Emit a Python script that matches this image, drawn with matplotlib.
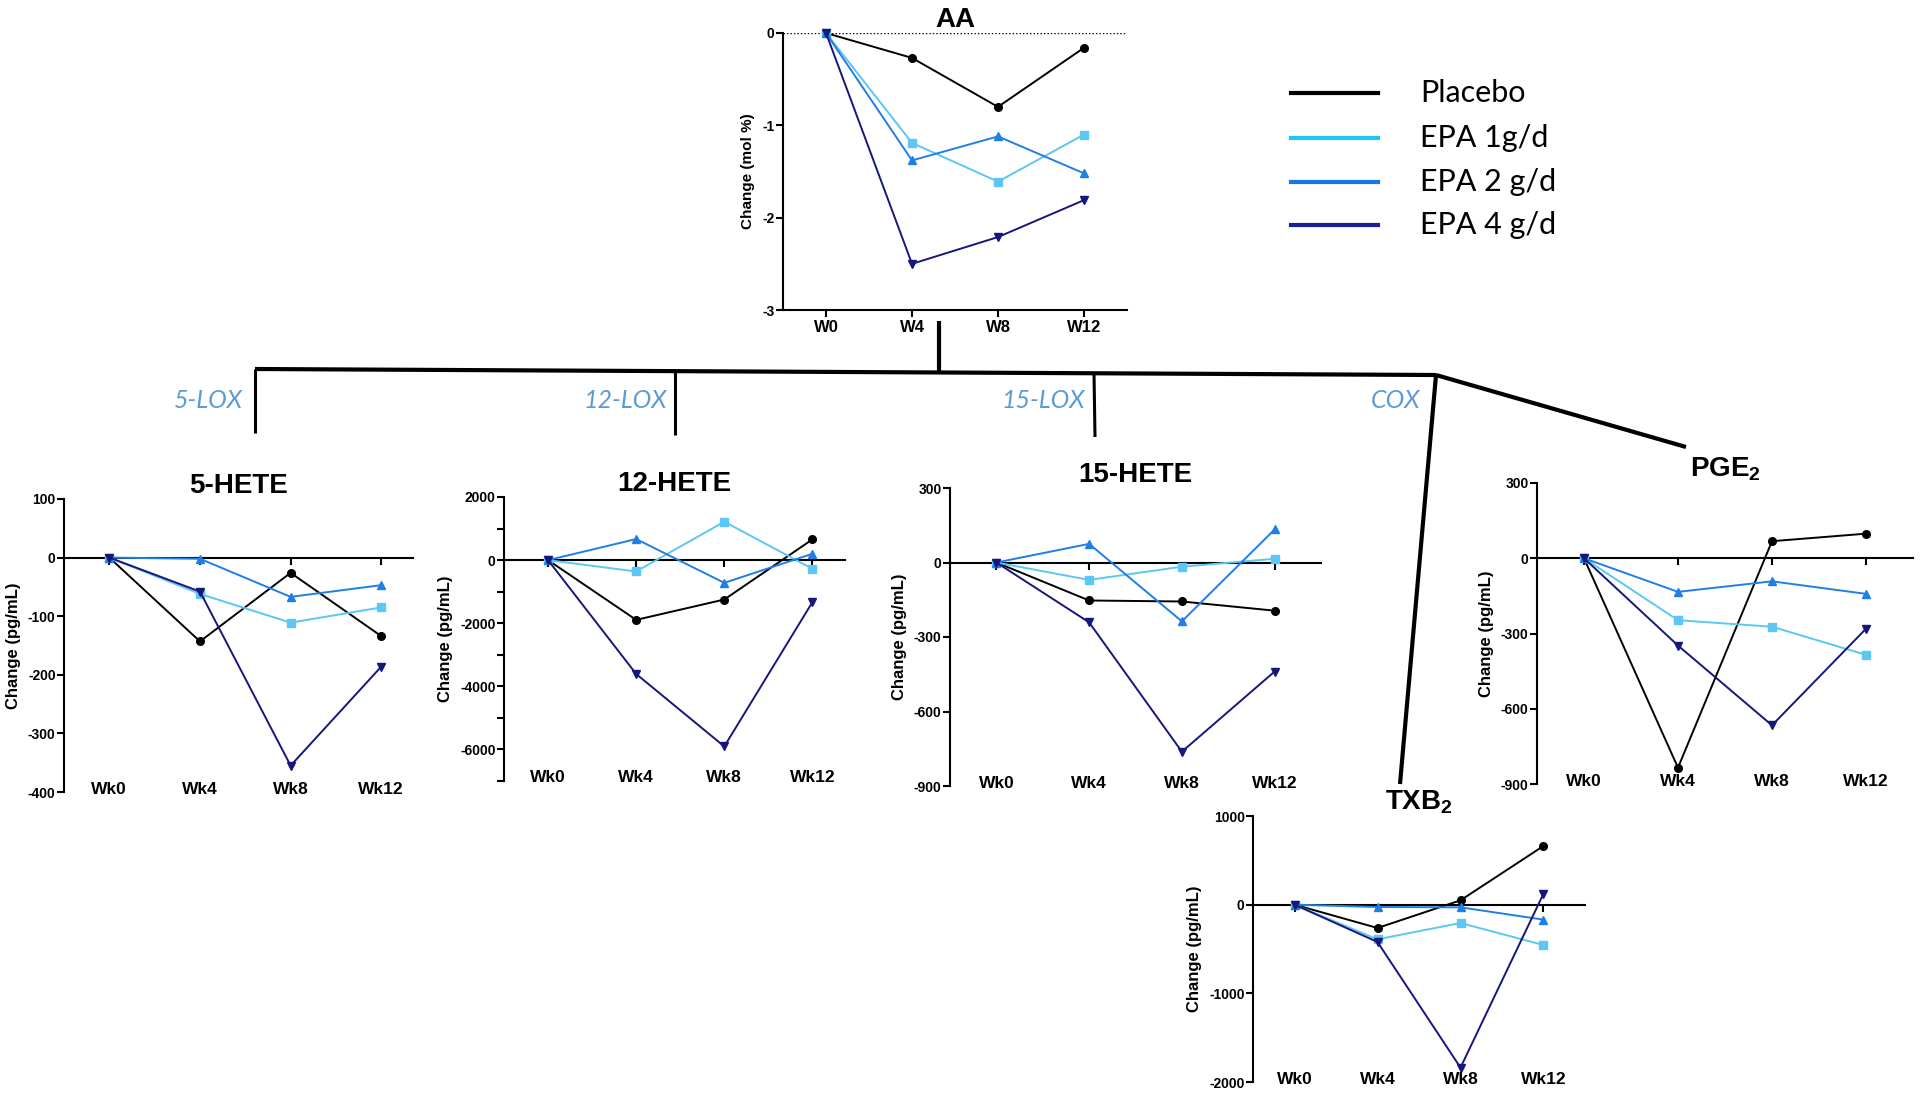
import numpy as np
import matplotlib.pyplot as plt
from matplotlib.ticker import MultipleLocator

plt.rcParams['font.family'] = ['Liberation Sans', 'DejaVu Sans']
plt.rcParams['font.weight'] = 'bold'
plt.rcParams['axes.labelweight'] = 'bold'
plt.rcParams['axes.titleweight'] = 'bold'
plt.rcParams['axes.unicode_minus'] = False
plt.rcParams['mathtext.fontset'] = 'custom'
plt.rcParams['mathtext.bf'] = 'Liberation Sans:bold'
plt.rcParams['mathtext.rm'] = 'Liberation Sans:bold'

W, H = 1920, 1093  # figure size in pixels

# series (same order in every panel)
groups = ['Placebo', 'EPA 1g/d', 'EPA 2 g/d', 'EPA 4 g/d']
colors = ['black', '#5cc6f4', '#1f7fe6', '#16167c']
legend_colors = ['black', '#1ec6f0', '#1a76e6', '#1e1e9c']
markers = ['o', 's', '^', 'v']

aa_weeks = ['W0', 'W4', 'W8', 'W12']
weeks = ['Wk0', 'Wk4', 'Wk8', 'Wk12']

# AA, change in mol %
aa = [[0, -0.27, -0.80, -0.16],
      [0, -1.19, -1.61, -1.10],
      [0, -1.38, -1.12, -1.52],
      [0, -2.50, -2.21, -1.81]]

# eicosanoids, change in pg/mL
hete5 = [[0, -143, -26, -134],
         [0, -62, -111, -85],
         [0, -2, -67, -47],
         [0, -58, -355, -186]]
hete12 = [[0, -1894, -1249, 656],
          [0, -360, 1217, -275],
          [0, 667, -720, 201],
          [0, -3608, -5905, -1333]]
hete15 = [[0, -153, -157, -194],
          [0, -70, -17, 15],
          [0, 75, -237, 133],
          [0, -241, -762, -439]]
pge2 = [[0, -835, 68, 98],
        [0, -247, -273, -385],
        [0, -134, -92, -142],
        [0, -348, -666, -281]]
txb2 = [[0, -263, 49, 662],
        [0, -391, -207, -455],
        [0, -26, -30, -169],
        [0, -421, -1838, 124]]

enzymes = ['5-LOX', '12-LOX', '15-LOX', 'COX']

fig = plt.figure(figsize=(W / 100, H / 100), dpi=100)


def px_axes(left, right, top, bottom):
    return fig.add_axes([left / W, 1 - bottom / H, (right - left) / W, (bottom - top) / H])


def draw_series(ax, vals):
    x = np.arange(len(vals[0]))
    for v, c, m in zip(vals, colors, markers):
        ax.plot(x, v, color=c, marker=m, ms=5.5, lw=1.4, clip_on=False, zorder=3)
    return x


# ---- AA panel ----
ax = px_axes(783, 1127, 33, 310)
x = draw_series(ax, aa)
ax.axhline(0, color='black', ls=(0, (1, 1.5)), lw=1, zorder=1)
ax.set_xlim(-0.5, 3.5)
ax.set_ylim(-3, 0)
ax.spines[['top', 'right']].set_visible(False)
ax.spines[['left', 'bottom']].set_linewidth(1.5)
ax.set_xticks(x, aa_weeks)
ax.set_yticks([0, -1, -2, -3])
ax.tick_params(axis='x', length=5, width=1.5, labelsize=12, pad=2)
ax.tick_params(axis='y', length=5, width=1.5, labelsize=10, pad=1)
ax.set_ylabel('Change (mol %)', fontsize=11, labelpad=5)
ax.set_title('AA', fontsize=20, pad=4)


# ---- eicosanoid panels ----
def panel(box, title, vals, ylim, ystep, xmax, minor=None):
    ax = px_axes(*box)
    x = draw_series(ax, vals)
    ax.set_xlim(-0.5, xmax)
    ax.set_ylim(*ylim)
    ax.spines[['top', 'right']].set_visible(False)
    ax.spines[['left', 'bottom']].set_linewidth(1.5)
    ax.spines['bottom'].set_position(('data', 0))
    ax.set_xticks(x, [''] * len(x))
    ax.yaxis.set_major_locator(MultipleLocator(ystep))
    if minor:
        ax.yaxis.set_minor_locator(MultipleLocator(minor))
    ax.tick_params(which='both', length=5, width=1.5, labelsize=10, pad=1)
    for xi, lab in zip(x, weeks):
        ax.annotate(lab, (xi, 0), xycoords=ax.get_xaxis_transform(),
                    xytext=(0, 3), textcoords='offset pixels',
                    ha='center', va='center', fontsize=12.5)
    ax.set_ylabel('Change (pg/mL)', fontsize=12, labelpad=5)
    ax.set_title(title, fontsize=20, pad=4)
    return ax


panel((64, 413, 499, 792), '5-HETE', hete5, (-400, 100), 100, 3.35)
panel((504, 845, 497, 781), '12-HETE', hete12, (-7000, 2000), 2000, 3.37, minor=1000)
panel((950, 1321, 488, 786), '15-HETE', hete15, (-900, 300), 300, 3.5)
panel((1537, 1913, 483, 784), r'$\mathbf{PGE_2}$', pge2, (-900, 300), 300, 3.5)
panel((1253, 1585, 816, 1082), r'$\mathbf{TXB_2}$', txb2, (-2000, 1000), 1000, 3.5)

# ---- pathway connectors, enzyme labels and legend (overlay in pixel coords) ----
ov = fig.add_axes([0, 0, 1, 1], zorder=-1)
ov.set_xlim(0, W)
ov.set_ylim(H, 0)
ov.axis('off')

connectors = [((939, 939), (321, 371), 3),
              ((255, 1436), (369, 375), 3),
              ((255, 255), (369, 433), 2.2),
              ((675, 675), (371, 435), 2.2),
              ((1094, 1095), (373, 437), 2.2),
              ((1436, 1400), (375, 784), 3),
              ((1436, 1686), (375, 447), 3)]
for xs, ys, lw in connectors:
    ov.plot(xs, ys, color='black', lw=lw, solid_capstyle='butt')

enzyme_x = [243, 667, 1085, 1420]
for name, ex in zip(enzymes, enzyme_x):
    ov.text(ex, 401, name, ha='right', va='center', fontsize=18, color='#5b9bd5',
            style='italic', weight='normal', family=['Lato', 'DejaVu Sans'])

legend_y = [93, 138, 182, 225]
for name, c, ly in zip(groups, legend_colors, legend_y):
    ov.plot([1291, 1378], [ly, ly], color=c, lw=3)
    ov.text(1420, ly, name, ha='left', va='center', fontsize=22,
            weight='normal', family=['Lato', 'DejaVu Sans'])

fig.savefig('out.png', dpi=100)
